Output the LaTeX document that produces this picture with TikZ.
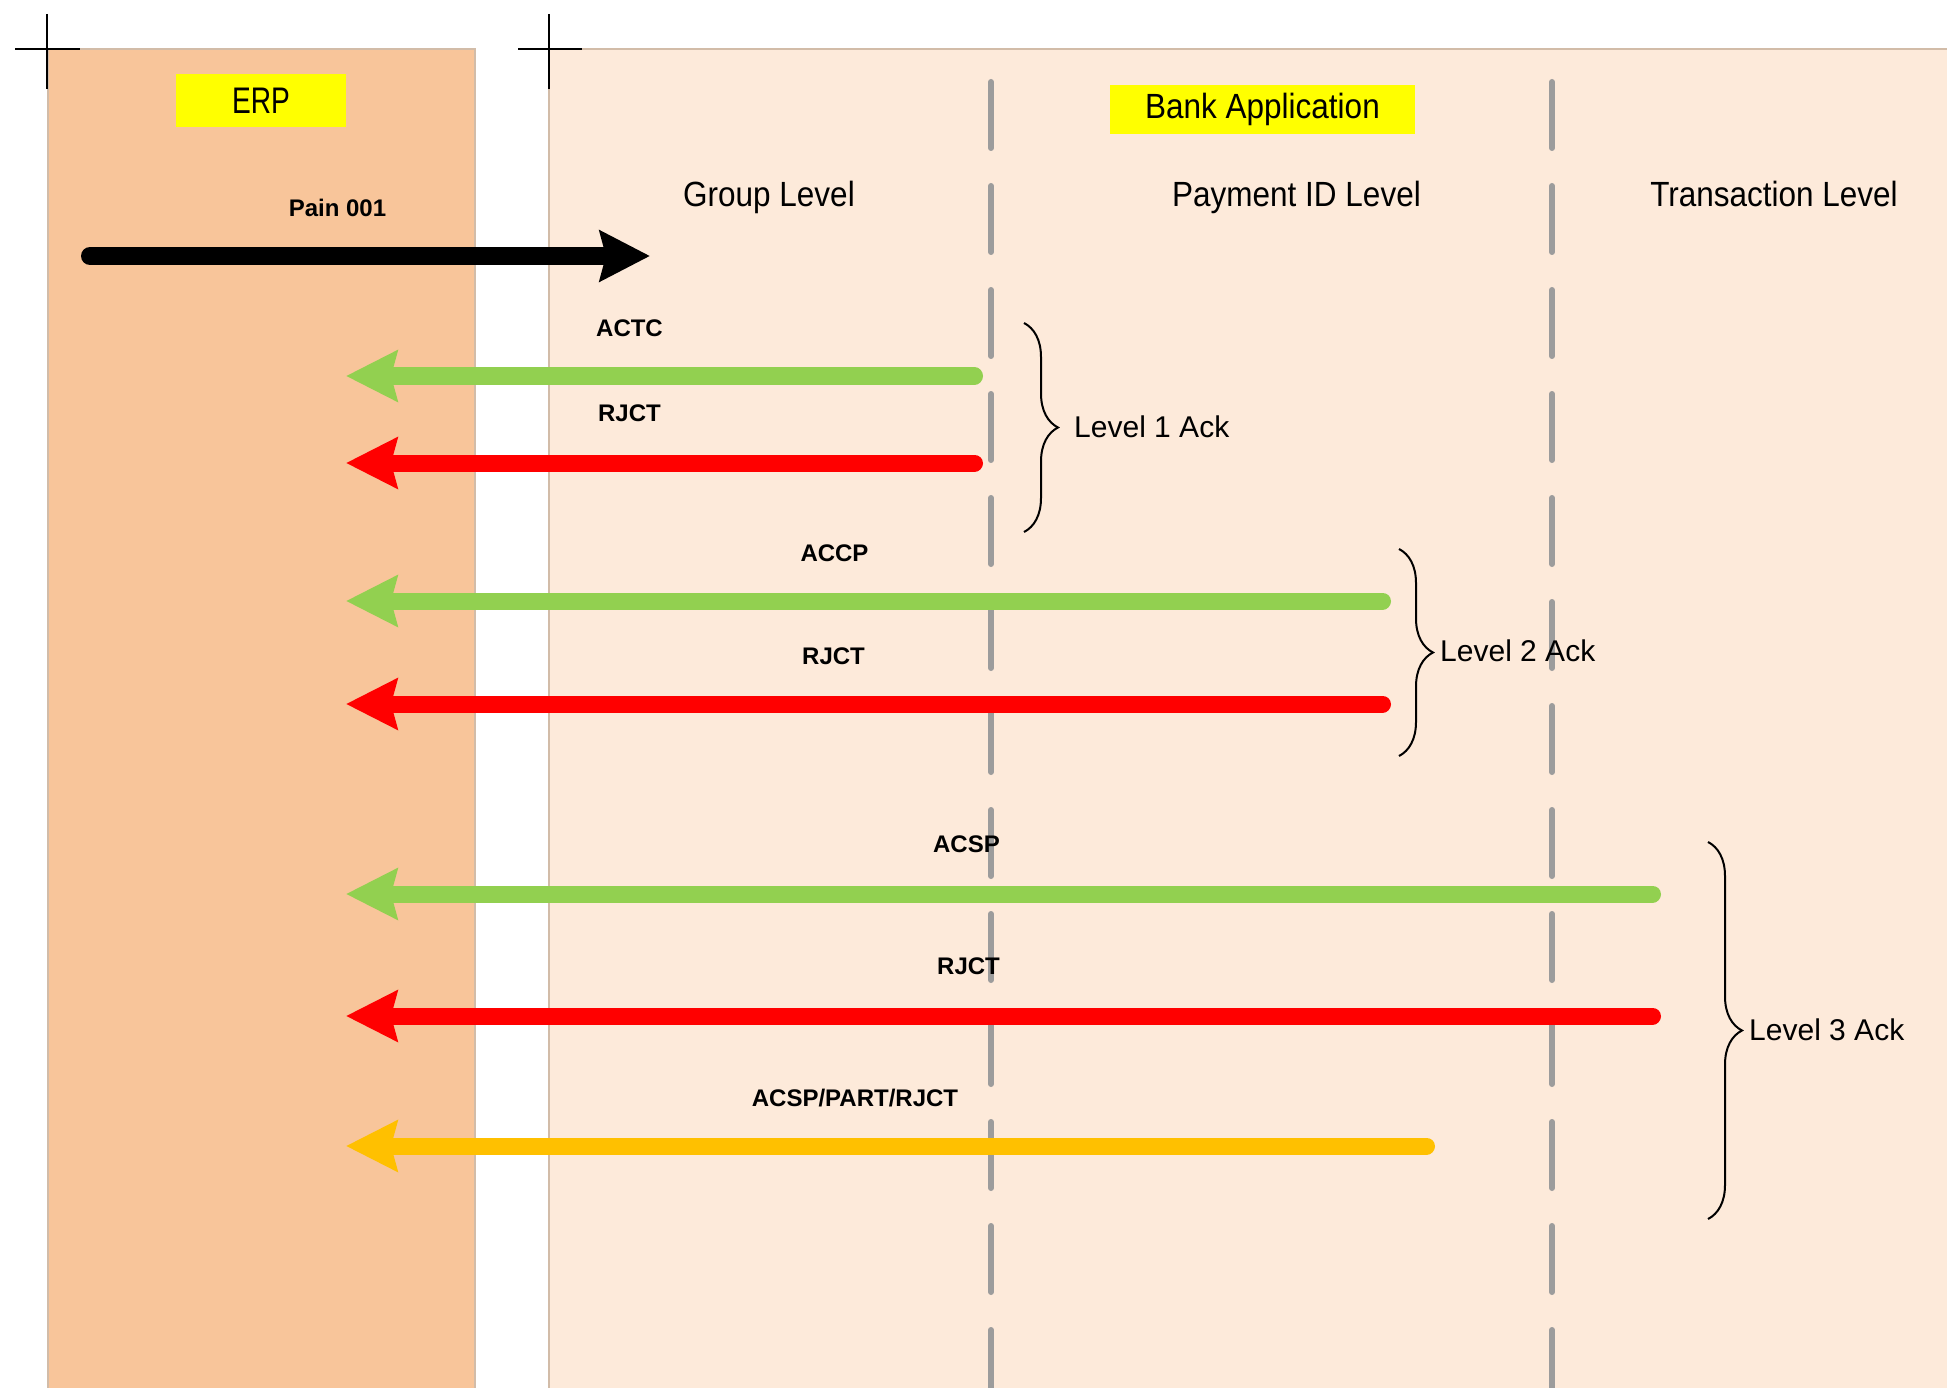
\documentclass[tikz,border=0pt]{standalone}
\usepackage{fontspec}
\setmainfont{Liberation Sans}
\newfontfamily\hdrfont[FakeStretch=0.9]{Liberation Sans}
\newfontfamily\erpfont[FakeStretch=0.76]{Liberation Sans}
\usetikzlibrary{arrows.meta,decorations.pathreplacing}
\definecolor{erpfill}{HTML}{F8C59A}
\definecolor{bankfill}{HTML}{FDEADA}
\definecolor{rimcol}{HTML}{D2BCA8}
\definecolor{dashgray}{HTML}{9C9C9C}
\definecolor{ackgreen}{HTML}{92D050}
\definecolor{ackred}{HTML}{FF0000}
\definecolor{ackyellow}{HTML}{FFC000}
\definecolor{hiyellow}{HTML}{FFFF00}
\tikzset{
  lane/.style={draw=rimcol, line width=1.5pt},
  crossline/.style={draw=black, line width=2pt},
  sep/.style={draw=dashgray, line width=6pt, line cap=round, dash pattern=on 66pt off 38pt},
  ackarrow/.style={line width=17pt, line cap=round, -{Stealth[length=51pt,width=50pt,inset=6pt]}},
  sendarrow/.style={draw=black, line width=18pt, line cap=round, -{Stealth[length=50pt,width=50pt,inset=6pt]}},
  msglbl/.style={font=\bfseries\fontsize{24}{28}\selectfont, anchor=base, inner sep=0pt},
  hdr/.style={font=\hdrfont\fontsize{35}{40}\selectfont, anchor=base, inner sep=0pt},
  lvl/.style={font=\fontsize{30}{34}\selectfont, anchor=base west, inner sep=0pt},
  bracepath/.style={draw=black, line width=2pt, decorate, decoration={brace, amplitude=34pt}},
  titlebox/.style={fill=hiyellow, inner sep=0pt}
}
\begin{document}
\begin{tikzpicture}[x=1pt,y=-1pt]
\useasboundingbox (0,0) rectangle (1947,1388);
% lanes
\fill[erpfill] (48,49) rectangle (475,1400);
\draw[lane] (48,1400) -- (48,49) -- (475,49) -- (475,1400);
\fill[bankfill] (549,49) rectangle (1960,1400);
\draw[lane] (549,1400) -- (549,49) -- (1960,49);
% crop crosses
\draw[crossline] (47,14) -- (47,89);
\draw[crossline] (15,49) -- (80,49);
\draw[crossline] (549,14) -- (549,89);
\draw[crossline] (518,49) -- (582,49);
% separators
\coordinate (s1t) at (991,82);
\coordinate (s1b) at (991,1400);
\coordinate (s2t) at (1552,82);
\coordinate (s2b) at (1552,1400);
\draw[sep] (s1t) -- (s1b);
\draw[sep] (s2t) -- (s2b);
% title boxes
\node[titlebox, minimum width=170pt, minimum height=53pt] (erp) at (261,100.5) {\erpfont\fontsize{37}{40}\selectfont ERP};
\node[titlebox, minimum width=305pt, minimum height=49pt] (bank) at (1262.5,109.5) {\hdrfont\fontsize{35}{40}\selectfont Bank Application};
% headers
\node[hdr] (grp) at (769,207) {Group Level};
\node[hdr] (pay) at (1296.5,207) {Payment ID Level};
\node[hdr] (trx) at (1774,207) {Transaction Level};
% send arrow
\coordinate (p0) at (90,256);
\coordinate (p1) at (650,256);
\draw[sendarrow] (p0) -- (p1);
\node[msglbl] (pain) at (337.5,217) {Pain 001};
% level 1
\coordinate (a1s) at (974.5,376);
\coordinate (a1e) at (346,376);
\coordinate (b1s) at (974.5,463);
\coordinate (b1e) at (346,463);
\draw[ackarrow, draw=ackgreen, color=ackgreen] (a1s) -- (a1e);
\draw[ackarrow, draw=ackred, color=ackred] (b1s) -- (b1e);
\node[msglbl] (actc) at (629.5,337) {ACTC};
\node[msglbl] (rjct1) at (629.5,421) {RJCT};
% level 2
\coordinate (a2s) at (1382.5,601);
\coordinate (a2e) at (346,601);
\coordinate (b2s) at (1382.5,704);
\coordinate (b2e) at (346,704);
\draw[ackarrow, draw=ackgreen, color=ackgreen] (a2s) -- (a2e);
\draw[ackarrow, draw=ackred, color=ackred] (b2s) -- (b2e);
\node[msglbl] (accp) at (834.5,561) {ACCP};
\node[msglbl] (rjct2) at (833.5,664) {RJCT};
% level 3
\coordinate (a3s) at (1652.5,894);
\coordinate (a3e) at (346,894);
\coordinate (b3s) at (1652.5,1016);
\coordinate (b3e) at (346,1016);
\coordinate (c3s) at (1426.5,1146);
\coordinate (c3e) at (346,1146);
\draw[ackarrow, draw=ackgreen, color=ackgreen] (a3s) -- (a3e);
\draw[ackarrow, draw=ackred, color=ackred] (b3s) -- (b3e);
\draw[ackarrow, draw=ackyellow, color=ackyellow] (c3s) -- (c3e);
\node[msglbl] (acsp) at (966.5,852.5) {ACSP};
\node[msglbl] (rjct3) at (968.5,974) {RJCT};
\node[msglbl] (part) at (855,1106) {ACSP/PART/RJCT};
% braces
\coordinate (br1t) at (1024,323);
\coordinate (br1b) at (1024,532);
\coordinate (br2t) at (1399,549);
\coordinate (br2b) at (1399,756);
\coordinate (br3t) at (1708,842);
\coordinate (br3b) at (1708,1219);
\draw[bracepath] (br1t) -- (br1b);
\draw[bracepath] (br2t) -- (br2b);
\draw[bracepath] (br3t) -- (br3b);
\node[lvl] (l1) at (1074,437) {Level 1 Ack};
\node[lvl] (l2) at (1440,661) {Level 2 Ack};
\node[lvl] (l3) at (1749,1040) {Level 3 Ack};
\end{tikzpicture}
\end{document}
